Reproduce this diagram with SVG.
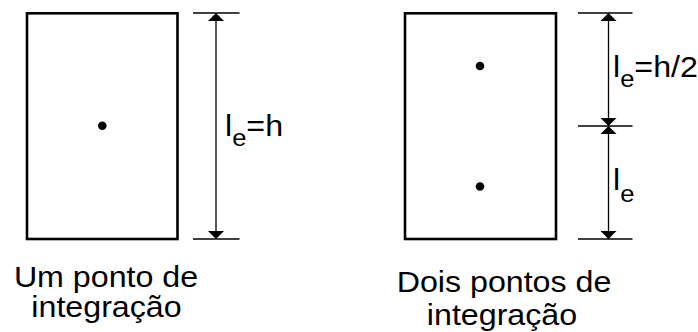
<svg xmlns="http://www.w3.org/2000/svg" width="698" height="332" viewBox="0 0 698 332">
<style>
.box{fill:#fff;stroke:#000;stroke-width:2.6}
.pt{fill:#000}
.dim{stroke:#000;stroke-width:1.3;fill:none}
.arr{stroke:#000;stroke-width:1.3;fill:none;marker-start:url(#ah);marker-end:url(#ah)}
.t{font-family:"Liberation Sans",Arial,sans-serif;font-size:29px;fill:#000}
.sub{font-size:23px}
</style>
<defs>
<marker id="ah" viewBox="0 0 8 16" refX="8" refY="8" markerWidth="8" markerHeight="16" markerUnits="userSpaceOnUse" orient="auto-start-reverse">
<path d="M0,0 L8,8 L0,16 Z" fill="#000"/>
</marker>
</defs>
<rect width="698" height="332" fill="#fff"/>
<g id="elem1">
<rect class="box" x="27" y="13.3" width="150.5" height="225.7"/>
<circle class="pt" cx="102.3" cy="125.8" r="4.3"/>
</g>
<g id="elem2">
<rect class="box" x="405" y="13.3" width="151" height="225.7"/>
<circle class="pt" cx="480" cy="66" r="4.3"/>
<circle class="pt" cx="480" cy="186.5" r="4.3"/>
</g>
<g id="connectors">
<line class="dim" x1="193" y1="13" x2="239.5" y2="13"/>
<line class="dim" x1="193" y1="239" x2="239.5" y2="239"/>
<line class="arr" x1="216" y1="13" x2="216" y2="239"/>
<line class="dim" x1="578" y1="13" x2="632.5" y2="13"/>
<line class="dim" x1="578" y1="126" x2="632.5" y2="126"/>
<line class="dim" x1="578" y1="239" x2="632.5" y2="239"/>
<line class="arr" x1="608.5" y1="13" x2="608.5" y2="126"/>
<line class="arr" x1="608.5" y1="126" x2="608.5" y2="239"/>
</g>
<g id="label-left">
<text class="t" transform="translate(225 136) scale(1.11 1)">l<tspan class="sub" dy="10">e</tspan><tspan dy="-10">=h</tspan></text>
</g>
<g id="label-right-top">
<text class="t" transform="translate(613 77) scale(1.11 1)">l<tspan class="sub" dy="10">e</tspan><tspan dy="-10">=h/2</tspan></text>
</g>
<g id="label-right-bottom">
<text class="t" transform="translate(613 190) scale(1.11 1)">l<tspan class="sub" dy="12">e</tspan></text>
</g>
<g id="caption-left">
<text class="t" text-anchor="middle" transform="translate(106 287) scale(1.11 1)">Um ponto de</text>
<text class="t" text-anchor="middle" transform="translate(106.5 317) scale(1.11 1)">integração</text>
</g>
<g id="caption-right">
<text class="t" text-anchor="middle" transform="translate(504 292) scale(1.11 1)">Dois pontos de</text>
<text class="t" text-anchor="middle" transform="translate(502 325) scale(1.11 1)">integração</text>
</g>
</svg>
